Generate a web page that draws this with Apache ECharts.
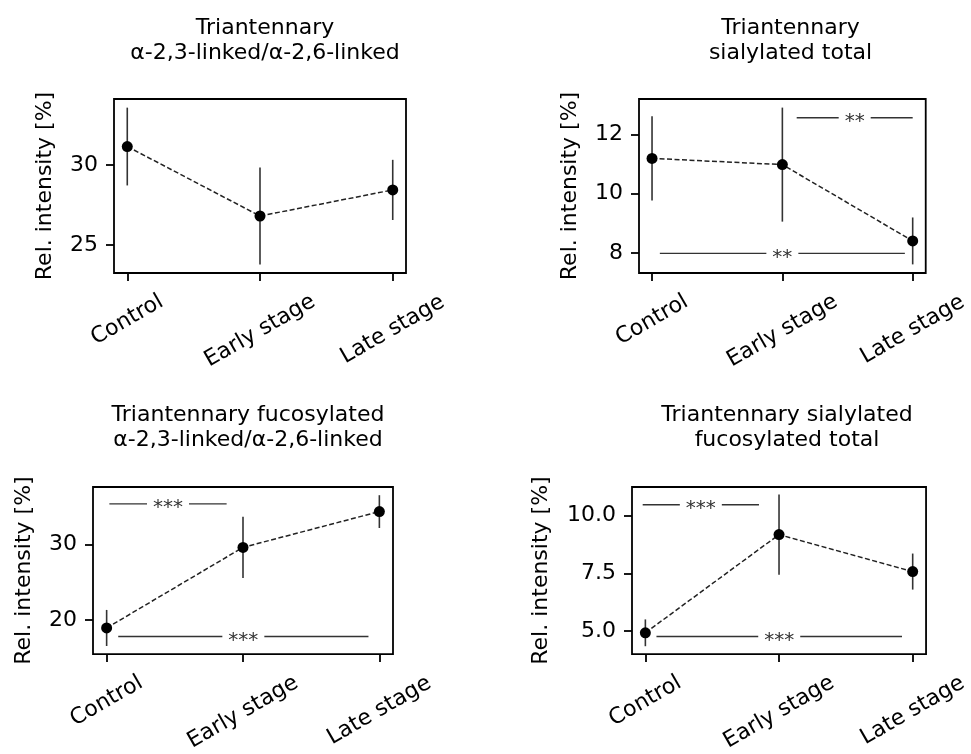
<!DOCTYPE html>
<html><head><meta charset="utf-8">
<script src="https://cdn.jsdelivr.net/npm/echarts@6/dist/echarts.min.js"></script>
<style>html,body{margin:0;padding:0;background:#fff}#c{width:971px;height:754px}</style>
</head><body><div id="c"></div>
<script>
// ---- data ----
const categories = ['Control', 'Early stage', 'Late stage'];
const yAxisName = 'Rel. intensity [%]';

const title1 = 'Triantennary\nα-2,3-linked/α-2,6-linked';
const means1 = [31.15, 26.81, 28.44];
const errors1 = [2.43, 3.03, 1.88];
const yRange1 = [23.25, 34.12];
const yTicks1 = [25, 30];
const sigFrom1 = [];
const sigTo1 = [];
const sigLevel1 = [];
const sigText1 = [];

const title2 = 'Triantennary\nsialylated total';
const means2 = [11.19, 10.98, 8.41];
const errors2 = [1.42, 1.92, 0.79];
const yRange2 = [7.33, 13.19];
const yTicks2 = [8, 10, 12];
const sigFrom2 = [1.11, 0.06];
const sigTo2 = [2.0, 1.94];
const sigLevel2 = [12.56, 7.99];
const sigText2 = ['**', '**'];

const title3 = 'Triantennary fucosylated\nα-2,3-linked/α-2,6-linked';
const means3 = [18.93, 29.65, 34.41];
const errors3 = [2.4, 4.07, 2.18];
const yRange3 = [15.46, 37.68];
const yTicks3 = [20, 30];
const sigFrom3 = [0.02, 0.085];
const sigTo3 = [0.88, 1.92];
const sigLevel3 = [35.44, 17.8];
const sigText3 = ['***', '***'];

const title4 = 'Triantennary sialylated\nfucosylated total';
const means4 = [4.93, 9.18, 7.58];
const errors4 = [0.58, 1.74, 0.78];
const yRange4 = [4.01, 11.24];
const yTicks4 = [5.0, 7.5, 10.0];
const sigFrom4 = [-0.02, 0.083];
const sigTo4 = [0.85, 1.92];
const sigLevel4 = [10.47, 4.77];
const sigText4 = ['***', '***'];

const tickDecimals = [0, 0, 0, 1];

// ---- layout / style ----
const FONT = 'DejaVu Sans';
const grids = [
  {left: 114, top: 99, width: 292, height: 174},
  {left: 639, top: 99, width: 293, height: 174},
  {left: 93, top: 487, width: 300, height: 173},
  {left: 632, top: 487, width: 300, height: 173}
];
const titleTops = [11, 11, 398, 398];
const yNameGaps = [58, 58, 58, 80];
const labelMargins = [47, 58, 56.5];

const panels = [
  {title: title1, means: means1, errors: errors1, range: yRange1, ticks: yTicks1, from: sigFrom1, to: sigTo1, level: sigLevel1, text: sigText1},
  {title: title2, means: means2, errors: errors2, range: yRange2, ticks: yTicks2, from: sigFrom2, to: sigTo2, level: sigLevel2, text: sigText2},
  {title: title3, means: means3, errors: errors3, range: yRange3, ticks: yTicks3, from: sigFrom3, to: sigTo3, level: sigLevel3, text: sigText3},
  {title: title4, means: means4, errors: errors4, range: yRange4, ticks: yTicks4, from: sigFrom4, to: sigTo4, level: sigLevel4, text: sigText4}
];

const option = {animation: false, title: [], grid: [], xAxis: [], yAxis: [], series: []};

panels.forEach((p, i) => {
  const g = grids[i];
  option.title.push({
    text: p.title, left: g.left + g.width / 2, top: titleTops[i], textAlign: 'center',
    textStyle: {fontFamily: FONT, fontSize: 22, fontWeight: 'normal', color: '#000', lineHeight: 25}
  });
  option.grid.push({left: g.left, top: g.top, width: g.width, height: g.height, show: true,
    borderColor: '#000', borderWidth: 1.8, backgroundColor: 'transparent', containLabel: false});
  categories.forEach((c, j) => {
    option.xAxis.push({
      gridIndex: i, type: 'value', min: -0.1, max: 2.1, position: 'bottom',
      axisLine: {show: false, onZero: false}, splitLine: {show: false},
      axisTick: {show: true, customValues: [j], length: 8, lineStyle: {color: '#000', width: 1.8}},
      axisLabel: {customValues: [j], formatter: v => categories[Math.round(v)], rotate: 30,
        align: 'center', verticalAlign: 'middle', margin: labelMargins[j],
        fontFamily: FONT, fontSize: 22, color: '#000'}
    });
  });
  option.yAxis.push({
    gridIndex: i, type: 'value', min: p.range[0], max: p.range[1], position: 'left',
    axisLine: {show: false, onZero: false}, splitLine: {show: false},
    axisTick: {show: true, customValues: p.ticks, length: 8, lineStyle: {color: '#000', width: 1.8}},
    axisLabel: {customValues: p.ticks, formatter: v => Number(v).toFixed(tickDecimals[i]), margin: 16,
      fontFamily: FONT, fontSize: 22, color: '#000'},
    name: yAxisName, nameLocation: 'middle', nameGap: yNameGaps[i],
    nameTextStyle: {fontFamily: FONT, fontSize: 22, color: '#000'}
  });
  const xi = i * categories.length;
  // error bars
  option.series.push({
    type: 'custom', xAxisIndex: xi, yAxisIndex: i, silent: true, clip: false, z: 2,
    encode: {x: 0, y: 1},
    data: p.means.map((m, k) => [k, m, p.errors[k]]),
    renderItem: (params, api) => {
      const x = api.value(0), m = api.value(1), e = api.value(2);
      const a = api.coord([x, m - e]), b = api.coord([x, m + e]);
      return {type: 'line', shape: {x1: a[0], y1: a[1], x2: b[0], y2: b[1]},
        style: {stroke: '#333', lineWidth: 1.6}};
    }
  });
  // means
  option.series.push({
    type: 'line', xAxisIndex: xi, yAxisIndex: i, silent: true, z: 3,
    data: p.means.map((m, k) => [k, m]),
    symbol: 'circle', symbolSize: 11, showSymbol: true,
    itemStyle: {color: '#000'},
    lineStyle: {color: '#222', width: 1.5, type: [5, 2.5]}
  });
  // significance brackets
  if (p.from.length) {
    const texts = p.text;
    option.series.push({
      type: 'custom', xAxisIndex: xi, yAxisIndex: i, silent: true, clip: false, z: 4,
      encode: {x: [0, 1], y: 2},
      data: p.from.map((f, k) => [f, p.to[k], p.level[k]]),
      renderItem: (params, api) => {
        const a = api.coord([api.value(0), api.value(2)]);
        const b = api.coord([api.value(1), api.value(2)]);
        return {type: 'group', children: [
          {type: 'line', shape: {x1: a[0], y1: a[1], x2: b[0], y2: b[1]}, style: {stroke: '#333', lineWidth: 1.4}},
          {type: 'text', x: (a[0] + b[0]) / 2, y: a[1] + 4, style: {
            text: texts[params.dataIndex], fill: '#333', fontFamily: FONT, fontSize: 20,
            align: 'center', verticalAlign: 'middle', backgroundColor: '#fff', padding: [0, 6]}}
        ]};
      }
    });
  }
});

const chart = echarts.init(document.getElementById('c'));
chart.setOption(option);
</script>
</body></html>
